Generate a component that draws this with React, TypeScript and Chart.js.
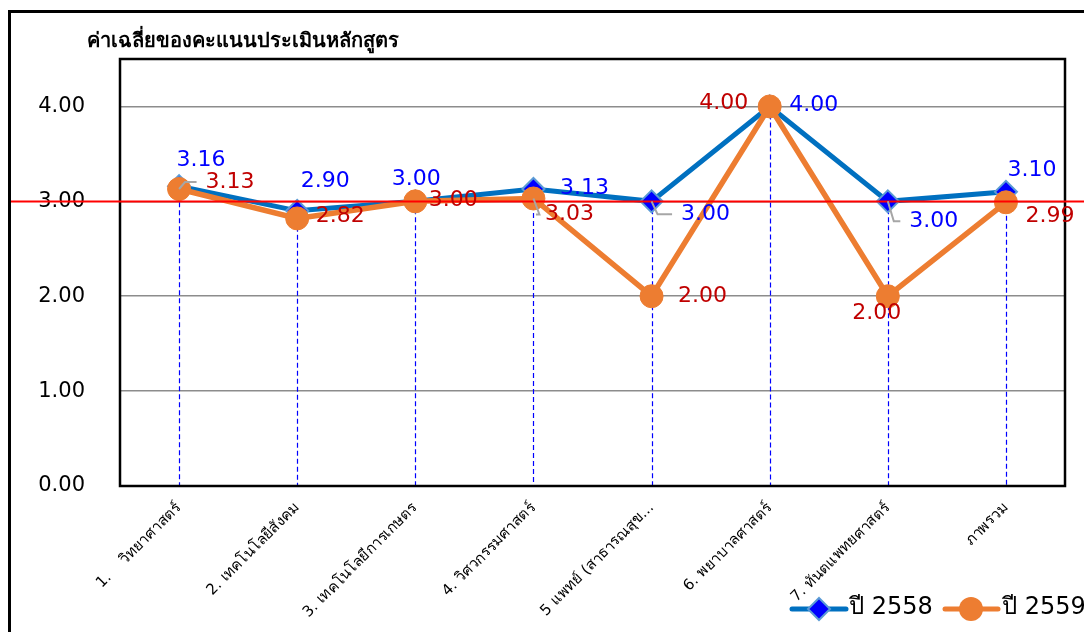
import React, { useEffect, useRef } from 'react';
import { Chart, registerables } from 'chart.js';

Chart.register(...registerables);

const CATEGORIES = [
  '1.    วิทยาศาสตร์',
  '2. เทคโนโลยีสังคม',
  '3. เทคโนโลยีการเกษตร',
  '4. วิศวกรรมศาสตร์',
  '5 แพทย์ (สาธารณสุข...',
  '6. พยาบาลศาสตร์',
  '7. ทันตแพทยศาสตร์',
  'ภาพรวม',
];
const SERIES_2558 = [3.16, 2.9, 3.0, 3.13, 3.0, 4.0, 3.0, 3.1];
const SERIES_2559 = [3.13, 2.82, 3.0, 3.03, 2.0, 4.0, 2.0, 2.99];
const SERIES_NAMES = ['ปี 2558', 'ปี 2559'];
const Y_MIN = 0;
const Y_MAX = 4.5;
const Y_STEP = 1;
const TARGET = 3.0;
const TITLE = 'ค่าเฉลี่ยของคะแนนประเมินหลักสูตร';

// label placement (style only)
const LABEL_OFFSETS_2558: [number, number][] = [
  [22, -26], [28, -30], [1, -22], [51, -1], [54, 13], [44, -1], [46, 20], [26, -22],
];
const LABEL_OFFSETS_2559: [number, number][] = [
  [51, -7], [43, -2], [38, -1], [36, 16], [51, 0], [-46, -3], [-11, 17], [44, 14],
];
const LEADERS_2558 = [false, false, false, false, true, false, true, false];
const LEADERS_2559 = [true, false, false, true, false, false, false, false];

const FONT = "Tahoma, 'DejaVu Sans', 'Noto Sans', sans-serif";
const BLUE_LINE = '#0070C0';
const BLUE_MARK = '#0000FF';
const BLUE_EDGE = '#5B9BD5';
const ORANGE = '#ED7D31';
const BLUE_TEXT = '#0000FF';
const RED_TEXT = '#C00000';

function drawDiamond(ctx: CanvasRenderingContext2D, x: number, y: number, r: number) {
  ctx.beginPath();
  ctx.moveTo(x, y - r);
  ctx.lineTo(x + r, y);
  ctx.lineTo(x, y + r);
  ctx.lineTo(x - r, y);
  ctx.closePath();
  ctx.fillStyle = BLUE_MARK;
  ctx.fill();
  ctx.strokeStyle = BLUE_EDGE;
  ctx.lineWidth = 2;
  ctx.stroke();
}

const overlay = {
  id: 'overlay',
  beforeDatasetsDraw(chart: any) {
    const { ctx, chartArea: a, scales } = chart;
    const x = scales.x;
    const y = scales.y;
    ctx.save();
    // drop lines
    CATEGORIES.forEach((_, i) => {
      const top = y.getPixelForValue(Math.max(SERIES_2558[i], SERIES_2559[i]));
      const px = Math.round(x.getPixelForValue(i)) + 0.5;
      ctx.save();
      ctx.strokeStyle = '#0000FF';
      ctx.lineWidth = 1.2;
      ctx.setLineDash([5, 3]);
      ctx.beginPath();
      ctx.moveTo(px, top);
      ctx.lineTo(px, a.bottom);
      ctx.stroke();
      ctx.restore();
    });
    // plot frame
    ctx.strokeStyle = '#000000';
    ctx.lineWidth = 2.5;
    ctx.setLineDash([]);
    ctx.strokeRect(a.left, a.top, a.right - a.left, a.bottom - a.top);
    ctx.restore();
  },
  afterDatasetsDraw(chart: any) {
    const { ctx, scales } = chart;
    const y = scales.y;
    ctx.save();
    // target line
    const ty = Math.round(y.getPixelForValue(TARGET)) + 0.5;
    ctx.strokeStyle = '#FF0000';
    ctx.lineWidth = 2;
    ctx.beginPath();
    ctx.moveTo(9, ty);
    ctx.lineTo(chart.width, ty);
    ctx.stroke();

    // data labels
    ctx.font = `22px ${FONT}`;
    ctx.textAlign = 'center';
    ctx.textBaseline = 'middle';
    const sets = [
      { vals: SERIES_2558, off: LABEL_OFFSETS_2558, lead: LEADERS_2558, color: BLUE_TEXT },
      { vals: SERIES_2559, off: LABEL_OFFSETS_2559, lead: LEADERS_2559, color: RED_TEXT },
    ];
    sets.forEach((s, di) => {
      const meta = chart.getDatasetMeta(di);
      s.vals.forEach((v, i) => {
        const pt = meta.data[i];
        const txt = v.toFixed(2);
        const lx = pt.x + s.off[i][0];
        const ly = pt.y + s.off[i][1];
        if (s.lead[i]) {
          const w = ctx.measureText(txt).width;
          ctx.strokeStyle = '#A6A6A6';
          ctx.lineWidth = 2;
          ctx.beginPath();
          ctx.moveTo(pt.x, pt.y);
          ctx.lineTo(pt.x + 6, ly);
          ctx.lineTo(lx - w / 2 - 9, ly);
          ctx.stroke();
        }
        ctx.fillStyle = s.color;
        ctx.fillText(txt, lx, ly);
      });
    });
    ctx.restore();
  },
  afterDraw(chart: any) {
    const { ctx } = chart;
    ctx.save();
    // outer frame
    ctx.strokeStyle = '#000000';
    ctx.lineWidth = 3;
    ctx.beginPath();
    ctx.moveTo(9.5, chart.height + 5);
    ctx.lineTo(9.5, 11.5);
    ctx.lineTo(chart.width + 5, 11.5);
    ctx.stroke();
    // title
    ctx.fillStyle = '#000000';
    ctx.font = `bold 20px ${FONT}`;
    ctx.textAlign = 'left';
    ctx.textBaseline = 'middle';
    ctx.fillText(TITLE, 87, 42);
    // legend
    const ly = 609;
    ctx.lineCap = 'round';
    ctx.strokeStyle = BLUE_LINE;
    ctx.lineWidth = 5;
    ctx.beginPath();
    ctx.moveTo(792, ly);
    ctx.lineTo(846, ly);
    ctx.stroke();
    drawDiamond(ctx, 819, ly, 11);
    ctx.strokeStyle = ORANGE;
    ctx.lineWidth = 5;
    ctx.beginPath();
    ctx.moveTo(945, ly);
    ctx.lineTo(998, ly);
    ctx.stroke();
    ctx.fillStyle = ORANGE;
    ctx.beginPath();
    ctx.arc(971, ly, 12, 0, Math.PI * 2);
    ctx.fill();
    ctx.fillStyle = '#000000';
    ctx.font = `24px ${FONT}`;
    ctx.textAlign = 'left';
    ctx.fillText(SERIES_NAMES[0], 849, ly - 1);
    ctx.fillText(SERIES_NAMES[1], 1002, ly - 1);
    ctx.restore();
  },
};

export default function App() {
  const ref = useRef<HTMLCanvasElement | null>(null);
  useEffect(() => {
    if (!ref.current) return;
    const chart = new Chart(ref.current, {
      type: 'line',
      data: {
        labels: CATEGORIES,
        datasets: [
          {
            label: SERIES_NAMES[0],
            data: SERIES_2558,
            borderColor: BLUE_LINE,
            backgroundColor: BLUE_MARK,
            borderWidth: 5,
            pointStyle: 'rectRot',
            pointRadius: 11,
            pointBackgroundColor: BLUE_MARK,
            pointBorderColor: BLUE_EDGE,
            pointBorderWidth: 2,
            order: 1,
          },
          {
            label: SERIES_NAMES[1],
            data: SERIES_2559,
            borderColor: ORANGE,
            backgroundColor: ORANGE,
            borderWidth: 5.5,
            pointStyle: 'circle',
            pointRadius: 11.5,
            pointBackgroundColor: ORANGE,
            pointBorderColor: ORANGE,
            pointBorderWidth: 1,
            order: 0,
          },
        ],
      },
      options: {
        responsive: false,
        animation: false,
        layout: { padding: { top: 59, right: 19, left: 0, bottom: 0 } },
        plugins: {
          legend: { display: false },
          title: { display: false },
          tooltip: { enabled: false },
        },
        scales: {
          x: {
            type: 'category',
            offset: true,
            grid: { display: false, drawTicks: false },
            border: { display: false },
            ticks: {
              autoSkip: false,
              maxRotation: 45,
              minRotation: 45,
              padding: 13,
              color: '#000000',
              font: { family: FONT, size: 15 },
            },
            afterFit: (s: any) => {
              s.height = 146;
            },
          },
          y: {
            min: Y_MIN,
            max: Y_MAX,
            grid: { color: '#8C8C8C', lineWidth: 1.5, drawTicks: false },
            border: { display: false },
            ticks: {
              stepSize: Y_STEP,
              includeBounds: false,
              padding: 35,
              color: '#000000',
              font: { family: FONT, size: 21 },
              callback: (v: any) => Number(v).toFixed(2),
            },
            afterFit: (s: any) => {
              s.width = 120;
            },
          },
        },
      },
      plugins: [overlay],
    });
    return () => chart.destroy();
  }, []);
  return (
    <div style={{ position: 'fixed', left: 0, top: 0, width: 1084, height: 632, background: '#fff', overflow: 'hidden' }}>
      <canvas ref={ref} width={1084} height={632} style={{ display: 'block' }} />
    </div>
  );
}
